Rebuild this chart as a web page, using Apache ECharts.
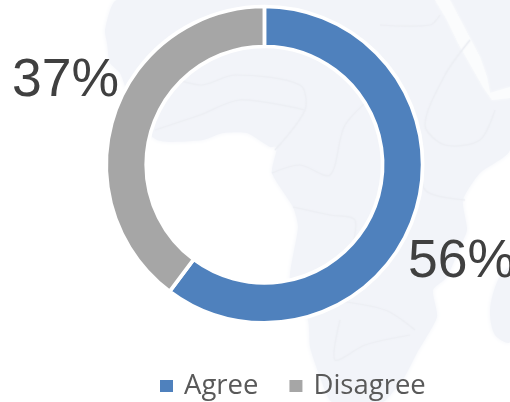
<!DOCTYPE html>
<html>
<head>
<meta charset="utf-8">
<style>html,body{margin:0;padding:0;background:#fff}#c{width:510px;height:402px}</style>
<script src="https://cdn.jsdelivr.net/npm/echarts@6/dist/echarts.min.js"></script>
</head>
<body>
<div id="c"></div>
<script>
const categories = ['Agree', 'Disagree'];
const values = [56, 37];
const colors = ['#4f81bd', '#a6a6a6'];
// Faint decorative backdrop (map silhouette), not data.
const mainland = [[117,0],[105,30],[107,43],[110,63],[120,73],[130,100],[145,130],[157,140],[170,142],[203,140],[223,133],[247,133],[270,147],[277,147],[272,173],[293,207],[298,227],[290,280],[308,320],[310,347],[320,377],[332,402],[383,402],[392,393],[403,380],[417,353],[437,317],[433,290],[447,277],[460,247],[467,230],[463,200],[480,173],[510,150],[510,0]];
const madagascar = [[510,268],[498,280],[490,310],[495,335],[510,342]];
const redSea = [[435,0],[450,0],[480,57],[487,77],[490,93],[510,87],[510,98],[492,100],[483,87],[458,43],[447,20]];
const borders = [
  [[380,25],[430,25],[440,15]], [[470,40],[445,75],[425,125],[445,145],[480,140],[495,110]],
  [[150,70],[200,85],[235,75],[300,85],[305,110],[275,150]], [[155,130],[200,115],[240,100],[305,110]],
  [[272,173],[300,165],[330,175],[345,125],[380,90]], [[293,207],[330,215],[355,220],[350,255]],
  [[330,300],[385,310],[415,330]], [[340,320],[335,360],[365,345],[410,335]], [[420,145],[425,190],[465,200]]
];
const silent = {silent: true, z: -10};
const land = {fill:'#f2f4f9', shadowBlur:5, shadowColor:'#f2f4f9'};
const backdrop = [
  {type:'polygon', shape:{points:mainland, smooth:0.2}, style:land, ...silent},
  {type:'polygon', shape:{points:madagascar, smooth:0.3}, style:land, ...silent},
  {type:'polygon', shape:{points:redSea}, style:{fill:'#fbfcfd', shadowBlur:3, shadowColor:'#fbfcfd'}, ...silent},
  ...borders.map(b => ({type:'polyline', shape:{points:b, smooth:0.3}, style:{fill:'none', stroke:'#edeff4', lineWidth:1.2, shadowBlur:2, shadowColor:'#edeff4'}, ...silent}))
];
const labelSpots = [
  {x: 408, y: 262, align: 'left', verticalAlign: 'middle'},
  {x: 12, y: 81, align: 'left', verticalAlign: 'middle'}
];
const chart = echarts.init(document.getElementById('c'), null, {renderer: 'canvas'});
chart.setOption({
  animation: false,
  backgroundColor: '#ffffff',
  color: colors,
  graphic: {elements: backdrop},
  legend: {
    data: categories, left: 153, top: 367, padding: 5, icon: 'rect', itemWidth: 15, itemHeight: 14, itemGap: 29,
    selectedMode: false,
    textStyle: {fontFamily: 'Open Sans', fontSize: 27.5, color: '#595959', padding: [0, 0, 0, 5]}
  },
  series: [{
    type: 'pie', center: [264.4, 164.7], radius: [118.2, 158.2], startAngle: 90, clockwise: true,
    avoidLabelOverlap: false, silent: true,
    itemStyle: {borderColor: '#ffffff', borderWidth: 3.7},
    label: {show: true, position: 'outside', formatter: p => p.value + '%', overflow: 'none',
      fontFamily: 'Liberation Sans', fontSize: 53.5, color: '#404040'},
    labelLine: {show: false},
    labelLayout: p => labelSpots[p.dataIndex],
    data: categories.map((n, i) => ({name: n, value: values[i]}))
  }]
});
</script>
</body>
</html>
